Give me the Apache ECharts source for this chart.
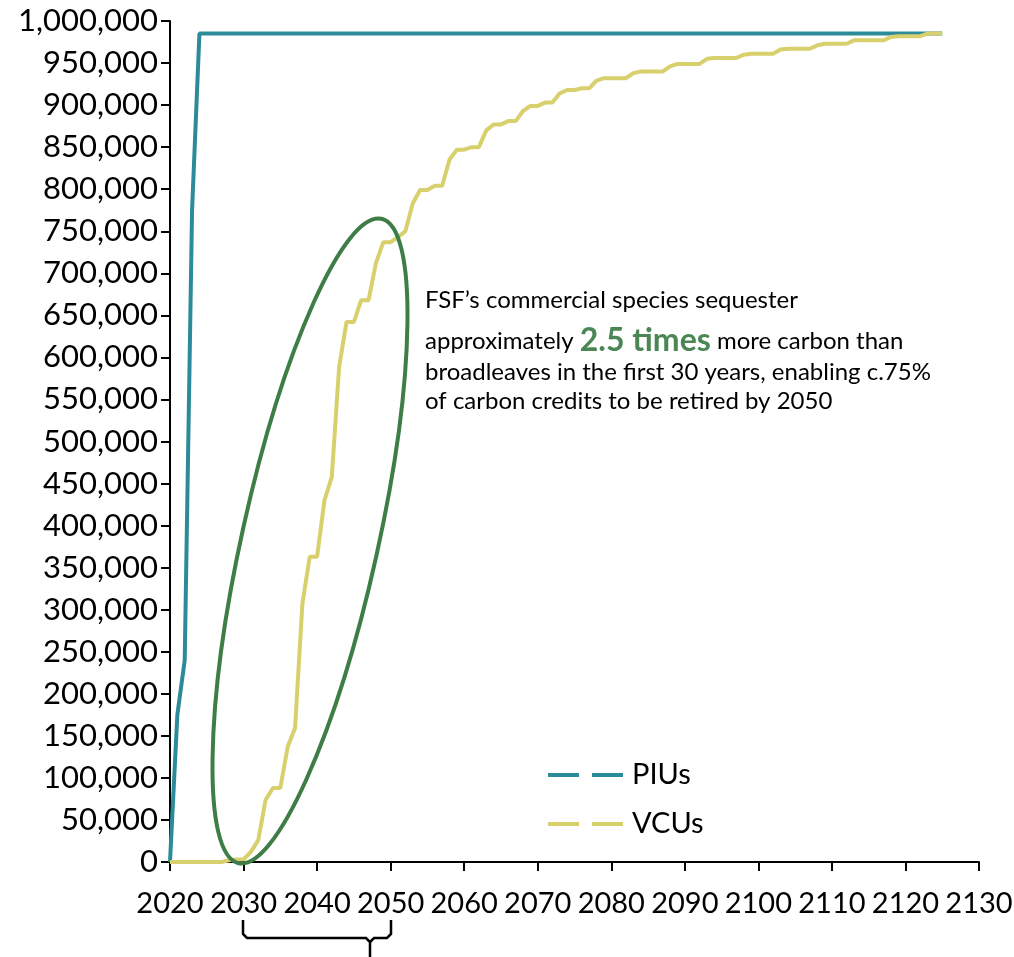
<!DOCTYPE html>
<html>
<head>
<meta charset="utf-8">
<script src="https://cdn.jsdelivr.net/npm/echarts@6/dist/echarts.min.js"></script>
<style>
html,body{margin:0;padding:0;background:#fff;}
#chart{width:1014px;height:957px;}
</style>
</head>
<body>
<div id="chart"></div>
<script>
const years = [2020,2021,2022,2023,2024,2025,2026,2027,2028,2029,
2030,2031,2032,2033,2034,2035,2036,2037,2038,2039,
2040,2041,2042,2043,2044,2045,2046,2047,2048,2049,
2050,2051,2052,2053,2054,2055,2056,2057,2058,2059,
2060,2061,2062,2063,2064,2065,2066,2067,2068,2069,
2070,2071,2072,2073,2074,2075,2076,2077,2078,2079,
2080,2081,2082,2083,2084,2085,2086,2087,2088,2089,
2090,2091,2092,2093,2094,2095,2096,2097,2098,2099,
2100,2101,2102,2103,2104,2105,2106,2107,2108,2109,
2110,2111,2112,2113,2114,2115,2116,2117,2118,2119,
2120,2121,2122,2123,2124,2125];

const piuValues = [0,175000,240000,775000,985000,985000,985000,985000,985000,985000,
985000,985000,985000,985000,985000,985000,985000,985000,985000,985000,
985000,985000,985000,985000,985000,985000,985000,985000,985000,985000,
985000,985000,985000,985000,985000,985000,985000,985000,985000,985000,
985000,985000,985000,985000,985000,985000,985000,985000,985000,985000,
985000,985000,985000,985000,985000,985000,985000,985000,985000,985000,
985000,985000,985000,985000,985000,985000,985000,985000,985000,985000,
985000,985000,985000,985000,985000,985000,985000,985000,985000,985000,
985000,985000,985000,985000,985000,985000,985000,985000,985000,985000,
985000,985000,985000,985000,985000,985000,985000,985000,985000,985000,
985000,985000,985000,985000,985000,985000];

const vcuValues = [0,0,0,0,0,0,0,0,2000,3000,
3000,12000,26000,74000,88000,88000,137000,159000,307000,363000,
363000,430000,458000,589000,642000,642000,668000,668000,712000,737000,
737000,743000,750000,783000,799000,799000,804000,804000,835000,847000,
847000,850000,850000,870000,877000,877000,881000,881000,893000,899000,
899000,903000,903000,914000,918000,918000,920000,920000,929000,932000,
932000,932000,932000,938000,940000,940000,940000,940000,946000,949000,
949000,949000,949000,955000,956000,956000,956000,956000,960000,961000,
961000,961000,961000,966000,967000,967000,967000,967000,971000,973000,
973000,973000,973000,977000,977000,977000,977000,977000,981000,982000,
982000,982000,982000,985000,985000,985000];

const seriesNames = ['PIUs','VCUs'];
const annotationLines = [
  "FSF\u2019s commercial species sequester",
  ["approximately ", "2.5 times", " more carbon than"],
  "broadleaves in the first 30 years, enabling c.75%",
  "of carbon credits to be retired by 2050"
];

const FONT = 'Lato, "Open Sans", sans-serif';
const chart = echarts.init(document.getElementById('chart'));

const piuData = years.map((y, i) => [y, piuValues[i]]);
const vcuData = years.map((y, i) => [y, vcuValues[i]]);

const dashIcon = 'path://M0,0 H31 V4 H0 Z M44,0 H75 V4 H44 Z';

chart.setOption({
  animation: false,
  backgroundColor: '#fff',
  grid: {left: 170, right: 35, top: 21, bottom: 95, containLabel: false, outerBoundsMode: 'none'},
  xAxis: {
    type: 'value', min: 2020, max: 2130, interval: 10,
    axisLine: {lineStyle: {color: '#000', width: 2}},
    axisTick: {show: true, length: 9, lineStyle: {color: '#000', width: 2}},
    axisLabel: {color: '#000', fontSize: 29, fontFamily: FONT, margin: 27, formatter: v => String(v)},
    splitLine: {show: false}
  },
  yAxis: {
    type: 'value', min: 0, max: 1000000, interval: 50000,
    axisLine: {show: true, lineStyle: {color: '#000', width: 2}},
    axisTick: {show: true, length: 9, lineStyle: {color: '#000', width: 2}},
    axisLabel: {color: '#000', fontSize: 31, fontFamily: FONT, margin: 12,
      formatter: v => v.toLocaleString('en-US')},
    splitLine: {show: false}
  },
  legend: {
    orient: 'vertical', left: 543, top: 755,
    itemWidth: 75, itemHeight: 4, itemGap: 19,
    icon: dashIcon,
    textStyle: {color: '#000', fontSize: 29, fontFamily: FONT, lineHeight: 30, padding: [0, 0, 0, 4]},
    data: seriesNames
  },
  series: [
    {name: seriesNames[0], type: 'line', data: piuData, symbol: 'none',
     lineStyle: {color: '#2b8b98', width: 4}, itemStyle: {color: '#2b8b98'}, z: 2},
    {name: seriesNames[1], type: 'line', data: vcuData, symbol: 'none',
     lineStyle: {color: '#d8d06c', width: 4}, itemStyle: {color: '#d8d06c'}, z: 3}
  ],
  graphic: [
    {type: 'ellipse', x: 310, y: 541, rotation: -12.5 * Math.PI / 180, z: 100,
     shape: {cx: 0, cy: 0, rx: 68, ry: 330},
     style: {fill: 'none', stroke: '#3f7d47', lineWidth: 4}},
    {type: 'polyline', z: 100,
     shape: {points: [[243, 920], [243, 934], [247, 938], [366, 938], [370, 942], [370, 957]]},
     style: {fill: 'none', stroke: '#000', lineWidth: 2.5}},
    {type: 'polyline', z: 100,
     shape: {points: [[370, 942], [374, 938], [387, 938], [391, 934], [391, 920]]},
     style: {fill: 'none', stroke: '#000', lineWidth: 2.5}},
    {type: 'text', left: 425, top: 288, z: 100,
     style: {text: annotationLines[0], font: '24px ' + FONT, fill: '#000'}},
    {type: 'text', left: 425, top: 325, z: 100,
     style: {
       text: '{n|' + annotationLines[1][0] + '}{b|' + annotationLines[1][1] + '}{n|' + annotationLines[1][2] + '}',
       rich: {
         n: {fontSize: 24, fontFamily: FONT, fill: '#000', color: '#000'},
         b: {fontSize: 32, fontFamily: FONT, fontWeight: 'bold', fill: '#4a8754', color: '#4a8754'}
       }
     }},
    {type: 'text', left: 425, top: 360, z: 100,
     style: {text: annotationLines[2], font: '24px ' + FONT, fill: '#000'}},
    {type: 'text', left: 425, top: 389, z: 100,
     style: {text: annotationLines[3], font: '24px ' + FONT, fill: '#000'}}
  ]
});
</script>
</body>
</html>
